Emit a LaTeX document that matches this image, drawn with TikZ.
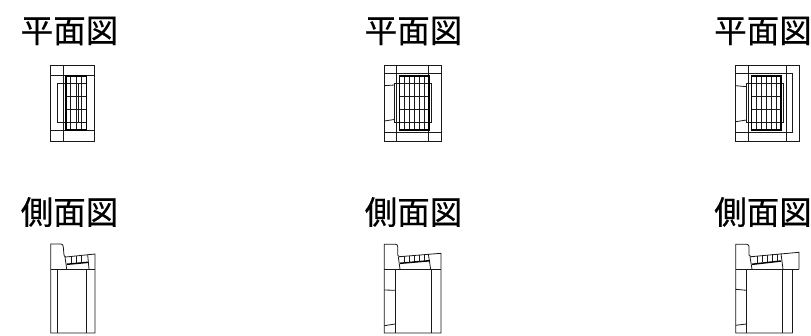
\documentclass[tikz,border=0pt]{standalone}
\usepackage{fontspec}
\newfontfamily\cjk[FakeBold=0.5]{Noto Sans CJK JP}
\tikzset{
  title/.style={font=\cjk\fontsize{32.5}{33}\selectfont,inner sep=0pt,anchor=center,text=black},
  thin line/.style={line width=0.8pt,black!90},
  bold line/.style={line width=1.5pt,black},
}
\begin{document}
\begin{tikzpicture}[x=1pt,y=-1pt]
\useasboundingbox (0,0) rectangle (811,336);
\fill[white] (0,0) rectangle (811,336);
\node[title] (p1) at (69.5,31) {平面図};
\node[title] (p2) at (413.5,31) {平面図};
\node[title] (p3) at (763,31) {平面図};
\node[title] (s1) at (69.5,212) {側面図};
\node[title] (s2) at (413.5,212) {側面図};
\node[title] (s3) at (763,212) {側面図};
% plan 1
\begin{scope}[thin line]
\draw (50.7,65) rectangle (94.3,141);
\draw (50.7,75.7) -- (94.3,75.7) (50.7,130) -- (94.3,130);
\draw (63.3,65) -- (63.3,141);
\draw (57.3,83.3) rectangle (78,122.3);
\foreach \x in {70.7,76,81.3} \draw (\x,76) -- (\x,130);
\foreach \y in {83.3,96.7,109.3,122.3} \draw (66,\y) -- (86.7,\y);
\draw[bold line] (66,76) rectangle (86.7,130);
\end{scope}
% plan 2
\begin{scope}[thin line]
\draw (384.3,65) rectangle (441,141);
\draw (384.3,73.3) -- (441,73.3) (384.3,132.3) -- (441,132.3);
\draw (396.7,65) -- (396.7,141);
\draw (428.3,65) -- (428.3,141);
\draw (394.3,83.3) rectangle (431.7,122.3);
\draw (384.3,85.7) -- (394.3,85) (384.3,121) -- (394.3,119.5);
\foreach \x in {404.3,409.3,414.3,419.3,424.3} \draw (\x,76) -- (\x,130);
\foreach \y in {83.3,96.7,109.3,122.3} \draw (399.3,\y) -- (429,\y);
\draw[bold line] (399.3,76) rectangle (429,130);
\end{scope}
% plan 3
\begin{scope}[thin line]
\draw (735.7,65) rectangle (799,141);
\draw (735.7,73.3) rectangle (792.7,132.5);
\draw (748.3,65) -- (748.3,141);
\draw (786.5,65) -- (786.5,141);
\draw (746.7,83.3) rectangle (783,122.3);
\draw (735.7,85.7) -- (746.7,86.7) (735.7,121.7) -- (746.7,120);
\foreach \x in {756.7,761.7,766.7,771.7,776.7} \draw (\x,76) -- (\x,130);
\foreach \y in {83.3,96.7,109.3,122.3} \draw (751.7,\y) -- (781,\y);
\draw[bold line] (751.7,76) rectangle (781,130);
\end{scope}
% side 1
\begin{scope}[thin line]
\draw (50.7,333) -- (50.7,244) -- (60.7,244) .. controls (62.5,244) and (63.3,245) .. (63.3,247) -- (64,255) .. controls (64.3,256) and (65,257) .. (66,257) -- (95,254) -- (95,333) -- cycle;
\draw[line width=1.1pt] (50.7,269.3) -- (95,269.3);
\draw (57.7,269.3) -- (57.7,333) (86.7,269.3) -- (86.7,333);
\draw (65,256.7) -- (66.7,269.3) (87.7,255) -- (89,269.3);
\draw[bold line] (66.7,264.3) -- (88.3,262.3);
\foreach \x in {71.7,76.7,81.7} \draw (\x,256.5) -- (\x,263.5);
\end{scope}
% side 2
\begin{scope}[thin line]
\draw (384.3,333) -- (384.3,244.3) -- (395.7,244.3) .. controls (397,244.3) and (397.7,245.3) .. (397.7,246.7) -- (397.7,255) .. controls (398,256) and (398.5,256.7) .. (399.3,256.7) -- (441,253.3) -- (441,333) -- cycle;
\draw[line width=1.1pt] (384.3,269.3) -- (441,269.3);
\draw (395,269.3) -- (395,333) (431,269.3) -- (431,333);
\draw (398.3,256.7) -- (400,269.3) (428.3,254) -- (430.7,269.3);
\draw (384.3,290) -- (395,290.3) (384.3,325.7) -- (395,324);
\draw[bold line] (400,263.3) -- (430,260.7);
\foreach \x/\y in {404.3/256,409.3/255.6,414.3/255.2,419.3/254.8,424.3/254.4} \draw (\x,\y) -- (\x,\y+7);
\end{scope}
% side 3
\begin{scope}[thin line]
\draw (792.7,333) -- (735.7,333) -- (735.7,244.3) -- (746.7,244.3) .. controls (748,244.3) and (749,245.3) .. (749,246.7) -- (749,255) .. controls (749.3,256) and (750,256.7) .. (751,256.7) -- (799,252.3) -- (799,269.3);
\draw[line width=1.1pt] (735.7,269.3) -- (799,269.3);
\draw (746.3,269.3) -- (746.3,333) (782.7,269.3) -- (782.7,333) (792.7,269.3) -- (792.7,333);
\draw (750,256.7) -- (752,269.3) (781,253.5) -- (783,269.3);
\draw (735.7,289.3) -- (746.3,290.3) (735.7,325.3) -- (746.3,324);
\draw[bold line] (752,264.3) -- (781,261);
\foreach \x/\y in {757.7/256,762.7/255.5,767.7/255,772.7/254.5,777/254} \draw (\x,\y) -- (\x,\y+7);
\end{scope}
\end{tikzpicture}
\end{document}
